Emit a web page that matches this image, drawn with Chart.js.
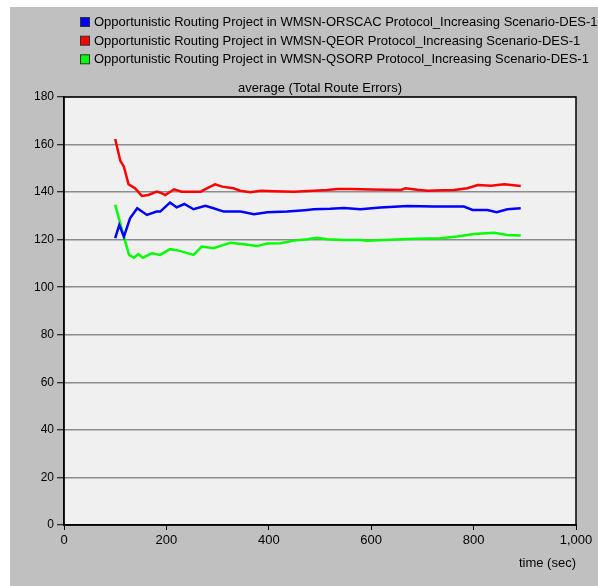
<!DOCTYPE html>
<html>
<head>
<meta charset="utf-8">
<script src="https://cdn.jsdelivr.net/npm/chart.js@4/dist/chart.umd.min.js"></script>
<style>
  html, body { margin: 0; padding: 0; background: #ffffff; }
  #panel { position: absolute; left: 10px; top: 7px; width: 588px; height: 579px; background: #c0c0c0; overflow: hidden; }
  canvas { display: block; }
</style>
</head>
<body>
<div id="panel"><canvas id="c" width="588" height="579"></canvas></div>
<script>
// ---- data ----
const chartTitle = "average (Total Route Errors)";
const xAxisTitle = "time (sec)";
const seriesLabels = [
  "Opportunistic Routing Project in WMSN-ORSCAC Protocol_Increasing Scenario-DES-1",
  "Opportunistic Routing Project in WMSN-QEOR Protocol_Increasing Scenario-DES-1",
  "Opportunistic Routing Project in WMSN-QSORP Protocol_Increasing Scenario-DES-1"
];
const seriesColors = ["#0000ff", "#ff0000", "#00ff00"];

const orscacTime = [100,108,117,129,143,162,181,188,207,220,235,253,276,292,312,345,371,397,436,470,488,520,547,579,618,671,720,781,798,827,845,866,892];
const orscacVals = [120.6,126.2,121.3,129.0,133.2,130.4,131.8,131.8,135.6,133.6,135.0,132.8,134.2,133.2,131.8,131.8,130.7,131.5,131.8,132.4,132.8,133.0,133.3,132.8,133.5,134.2,134.0,133.9,132.5,132.5,131.5,132.8,133.2];

const qeorTime = [100,110,117,126,139,152,165,181,190,198,215,230,253,267,279,295,309,331,344,364,384,410,449,488,514,534,560,600,630,658,667,690,710,740,762,788,808,834,860,892];
const qeorVals = [162.3,153.2,150.7,143.3,141.6,138.4,138.8,140.2,139.6,138.8,141.2,140.2,140.2,140.2,141.6,143.3,142.3,141.6,140.6,139.9,140.6,140.4,140.2,140.6,140.9,141.3,141.3,141.1,141.0,140.9,141.6,141.0,140.6,140.8,140.9,141.6,143.0,142.7,143.3,142.6];

const qsorpTime = [100,116,127,137,145,154,172,188,207,224,253,269,292,312,325,351,377,397,423,449,475,494,514,547,579,592,671,736,768,801,840,866,892];
const qsorpVals = [134.6,122.0,113.6,112.4,113.9,112.4,114.3,113.6,116.0,115.4,113.6,117.1,116.4,117.8,118.7,118.1,117.3,118.4,118.5,119.6,120.2,120.8,120.2,119.9,119.9,119.5,120.3,120.6,121.3,122.4,122.9,122.0,121.8];

const yTicksMin = 0, yTicksMax = 180, yStep = 20;
const xMin = 0, xMax = 1000, xStep = 200;

// ---- build ----
function pts(t, v) { return t.map((x, i) => ({ x: x, y: v[i] })); }
const seriesData = [pts(orscacTime, orscacVals), pts(qeorTime, qeorVals), pts(qsorpTime, qsorpVals)];

Chart.defaults.font.family = "'Liberation Sans', Arial, sans-serif";
Chart.defaults.font.size = 13;
Chart.defaults.color = "#000000";

const FONT = "13px 'Liberation Sans', Arial, sans-serif";

const framePlugin = {
  id: 'frame',
  beforeDraw(chart) {
    const a = chart.chartArea, ctx = chart.ctx;
    ctx.save();
    ctx.fillStyle = '#f0f0f0';
    ctx.fillRect(a.left, a.top, a.right - a.left, a.bottom - a.top);
    ctx.restore();
  },
  afterDraw(chart) {
    const a = chart.chartArea, ctx = chart.ctx;
    ctx.save();
    ctx.strokeStyle = '#000000';
    ctx.lineWidth = 1.5;
    ctx.strokeRect(a.left, a.top, a.right - a.left, a.bottom - a.top);
    // legend
    ctx.font = FONT;
    ctx.textBaseline = 'middle';
    ctx.textAlign = 'left';
    const rows = [15, 33.7, 52.3];
    chart.data.datasets.forEach((ds, i) => {
      const y = rows[i];
      ctx.fillStyle = ds.borderColor;
      ctx.fillRect(70.5, y - 4.5, 9, 9);
      ctx.strokeStyle = '#303030';
      ctx.lineWidth = 1;
      ctx.strokeRect(70.5, y - 4.5, 9, 9);
      ctx.fillStyle = '#000000';
      ctx.fillText(ds.label, 84, y + 0.5);
    });
    // title
    ctx.textAlign = 'center';
    ctx.fillText(chartTitle, (a.left + a.right) / 2, 81.5);
    ctx.restore();
  }
};

new Chart(document.getElementById('c'), {
  type: 'line',
  data: {
    datasets: seriesLabels.map((lab, i) => ({
      label: lab,
      data: seriesData[i],
      borderColor: seriesColors[i],
      backgroundColor: seriesColors[i],
      borderWidth: 2.5,
      pointRadius: 0,
      tension: 0,
      fill: false
    }))
  },
  options: {
    responsive: false,
    animation: false,
    devicePixelRatio: 1,
    layout: { padding: { top: 90, right: 22, bottom: 0, left: 0 } },
    plugins: { legend: { display: false }, title: { display: false }, tooltip: { enabled: false } },
    scales: {
      x: {
        type: 'linear',
        min: xMin, max: xMax,
        ticks: { stepSize: xStep, padding: 3, maxRotation: 0, color: '#000' },
        grid: { drawOnChartArea: false, tickLength: 5, tickColor: '#000', tickWidth: 1 },
        border: { color: '#000', width: 1.5 },
        title: { display: true, text: xAxisTitle, align: 'end', color: '#000', padding: { top: 0, bottom: 15 } },
        afterFit(s) { s.height = 61; }
      },
      y: {
        min: yTicksMin, max: yTicksMax,
        ticks: { stepSize: yStep, padding: 3, color: '#000', font: { size: 12 } },
        grid: { color: '#8c8c8c', lineWidth: 1.5, tickLength: 7, tickColor: '#000', tickWidth: 1 },
        border: { color: '#000', width: 1.5 },
        afterFit(s) { s.width = 54; }
      }
    }
  },
  plugins: [framePlugin]
});
</script>
</body>
</html>
